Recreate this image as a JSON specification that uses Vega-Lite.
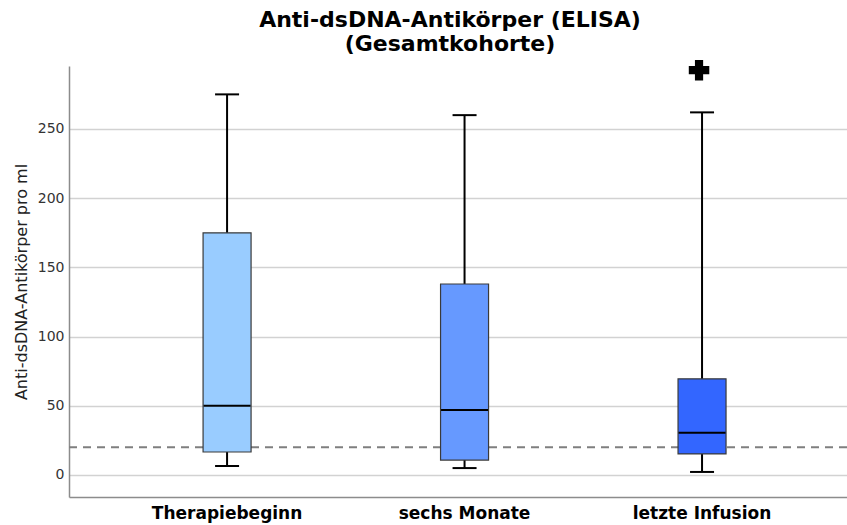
{
  "$schema": "https://vega.github.io/schema/vega-lite/v6.json",
  "autosize": "none",
  "width": 778,
  "height": 431,
  "padding": {"left": 69, "top": 66, "right": 0, "bottom": 28},
  "background": "white",
  "config": {
    "view": {"stroke": null},
    "font": "DejaVu Sans"
  },
  "title": {
    "text": ["Anti-dsDNA-Antikörper (ELISA)", "(Gesamtkohorte)"],
    "font": "DejaVu Sans",
    "fontSize": 22,
    "fontWeight": "bold",
    "color": "#000000",
    "lineHeight": 24,
    "anchor": "middle",
    "dx": -8,
    "offset": 4
  },
  "datasets": {
    "boxes": [
      {"group": "Therapiebeginn", "lower": 6.5, "q1": 16.6, "median": 50, "q3": 175, "upper": 275},
      {"group": "sechs Monate", "lower": 5, "q1": 10.8, "median": 47, "q3": 138, "upper": 260},
      {"group": "letzte Infusion", "lower": 2.2, "q1": 15.2, "median": 30.5, "q3": 69.5, "upper": 262}
    ],
    "outliers": [
      {"group": "letzte Infusion", "value": 292.5}
    ]
  },
  "encoding": {
    "x": {
      "field": "group",
      "type": "nominal",
      "sort": ["Therapiebeginn", "sechs Monate", "letzte Infusion"],
      "scale": {"domain": ["Therapiebeginn", "sechs Monate", "letzte Infusion"], "paddingInner": 0, "paddingOuter": 0.138, "align": 0.6},
      "axis": {
        "title": null,
        "labelAngle": 0,
        "labelFont": "DejaVu Sans",
        "labelFontSize": 17,
        "labelFontWeight": "bold",
        "labelColor": "#000000",
        "labelPadding": 8,
        "ticks": false,
        "domain": true,
        "domainColor": "#8c8c8c",
        "domainWidth": 1.5,
        "grid": false
      }
    }
  },
  "layer": [
    {
      "data": {"values": [{"ref": 20}]},
      "mark": {"type": "rule", "color": "#7f7f7f", "strokeWidth": 2, "strokeDash": [8, 6]},
      "encoding": {
        "x": null,
        "y": {
          "field": "ref",
          "type": "quantitative",
          "scale": {"domain": [-15.9, 295.5], "nice": false, "zero": false},
          "axis": {
            "title": "Anti-dsDNA-Antikörper pro ml",
            "titleFont": "DejaVu Sans",
            "titleFontSize": 16,
            "titleFontWeight": "normal",
            "titleColor": "#222222",
            "titlePadding": 8,
            "values": [0, 50, 100, 150, 200, 250],
            "labelFont": "DejaVu Sans",
            "labelFontSize": 14,
            "labelColor": "#333333",
            "labelPadding": 5,
            "ticks": false,
            "domain": true,
            "domainColor": "#8c8c8c",
            "domainWidth": 1.5,
            "grid": true,
            "gridColor": "#d2d2d2",
            "gridWidth": 1.5
          }
        }
      }
    },
    {
      "data": {"name": "boxes"},
      "mark": {"type": "rule", "color": "#000000", "strokeWidth": 2},
      "encoding": {
        "y": {"field": "lower", "type": "quantitative"},
        "y2": {"field": "upper"}
      }
    },
    {
      "data": {"name": "boxes"},
      "mark": {"type": "tick", "color": "#000000", "thickness": 2, "size": 24, "opacity": 1},
      "encoding": {
        "y": {"field": "lower", "type": "quantitative"}
      }
    },
    {
      "data": {"name": "boxes"},
      "mark": {"type": "tick", "color": "#000000", "thickness": 2, "size": 24, "opacity": 1},
      "encoding": {
        "y": {"field": "upper", "type": "quantitative"}
      }
    },
    {
      "data": {"name": "boxes"},
      "mark": {"type": "bar", "size": 48, "stroke": "#3a3a3a", "strokeWidth": 1.2, "opacity": 1},
      "encoding": {
        "y": {"field": "q1", "type": "quantitative"},
        "y2": {"field": "q3"},
        "color": {
          "field": "group",
          "type": "nominal",
          "scale": {"domain": ["Therapiebeginn", "sechs Monate", "letzte Infusion"], "range": ["#99ccff", "#6699ff", "#3366ff"]},
          "legend": null
        }
      }
    },
    {
      "data": {"name": "boxes"},
      "mark": {"type": "tick", "color": "#000000", "thickness": 2, "size": 47, "opacity": 1},
      "encoding": {
        "y": {"field": "median", "type": "quantitative"}
      }
    },
    {
      "data": {"name": "outliers"},
      "mark": {"type": "point", "shape": "cross", "filled": true, "color": "#000000", "size": 420, "opacity": 1, "xOffset": -3},
      "encoding": {
        "y": {"field": "value", "type": "quantitative"}
      }
    }
  ]
}
